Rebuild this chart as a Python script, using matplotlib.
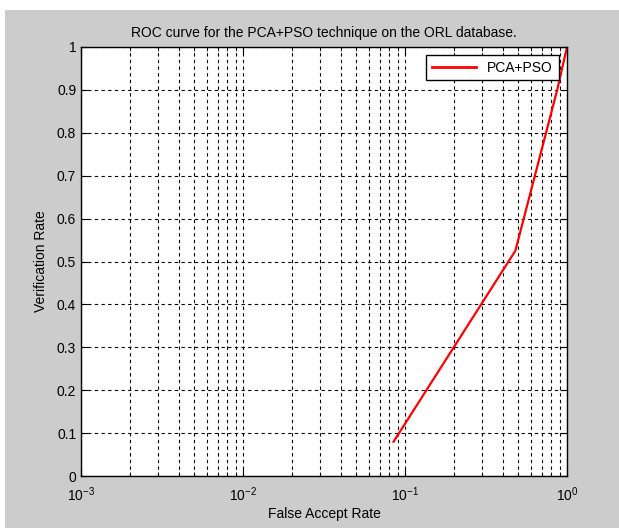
import matplotlib
matplotlib.use('Agg')
import matplotlib.pyplot as plt
from matplotlib.patches import Rectangle
from matplotlib.ticker import LogLocator, FixedLocator, NullFormatter

plt.rcParams['font.family'] = ['Liberation Sans', 'DejaVu Sans']

# ROC curve points
far = [0.085, 0.48, 0.87, 1.0]
vr = [0.08, 0.525, 0.9, 1.0]
yticks = [0, 0.1, 0.2, 0.3, 0.4, 0.5, 0.6, 0.7, 0.8, 0.9, 1]
ytick_labels = ['0', '0.1', '0.2', '0.3', '0.4', '0.5', '0.6', '0.7', '0.8', '0.9', '1']

fig = plt.figure(figsize=(6.19, 5.28), dpi=100, facecolor='white')
# gray matlab-style window background
fig.patches.append(Rectangle((5 / 619, 0), 1 - 5 / 619, 1 - 10 / 528,
                             transform=fig.transFigure, facecolor='#cccccc',
                             edgecolor='none', zorder=-10))

ax = fig.add_axes([81 / 619, 1 - 476 / 528, 486 / 619, 429 / 528])
ax.set_facecolor('white')
ax.plot(far, vr, color='red', lw=1.6, label='PCA+PSO')

ax.set_xscale('log')
ax.set_xlim(1e-3, 1)
ax.set_ylim(0, 1)
ax.xaxis.set_major_locator(LogLocator(base=10, numticks=10))
ax.xaxis.set_minor_locator(LogLocator(base=10, subs=range(2, 10), numticks=10))
ax.xaxis.set_minor_formatter(NullFormatter())
ax.yaxis.set_major_locator(FixedLocator(yticks))
ax.set_yticklabels(ytick_labels)

dash = (0, (3, 3))
ax.grid(True, which='major', axis='both', color='black', lw=0.8, linestyle=dash)
ax.grid(True, which='minor', axis='x', color='black', lw=0.8, linestyle=dash)

ax.tick_params(which='both', direction='in', top=True, right=True,
               labelsize=10, colors='black')
ax.tick_params(which='major', length=5)
ax.tick_params(which='minor', length=3)
ax.tick_params(axis='x', which='major', pad=7)
for s in ax.spines.values():
    s.set_linewidth(1.0)
    s.set_color('black')

ax.set_title('ROC curve for the PCA+PSO technique on the ORL database.',
             fontsize=10, pad=7)
ax.set_xlabel('False Accept Rate', fontsize=10, labelpad=2)
ax.set_ylabel('Verification Rate', fontsize=10, labelpad=6)

leg = ax.legend(loc='upper right', fontsize=10, fancybox=False, framealpha=1,
                edgecolor='black', borderaxespad=0.6, handlelength=3.2)
leg.get_frame().set_linewidth(1.0)
leg.get_lines()[0].set_linewidth(2)

fig.savefig('out.png', dpi=100)
